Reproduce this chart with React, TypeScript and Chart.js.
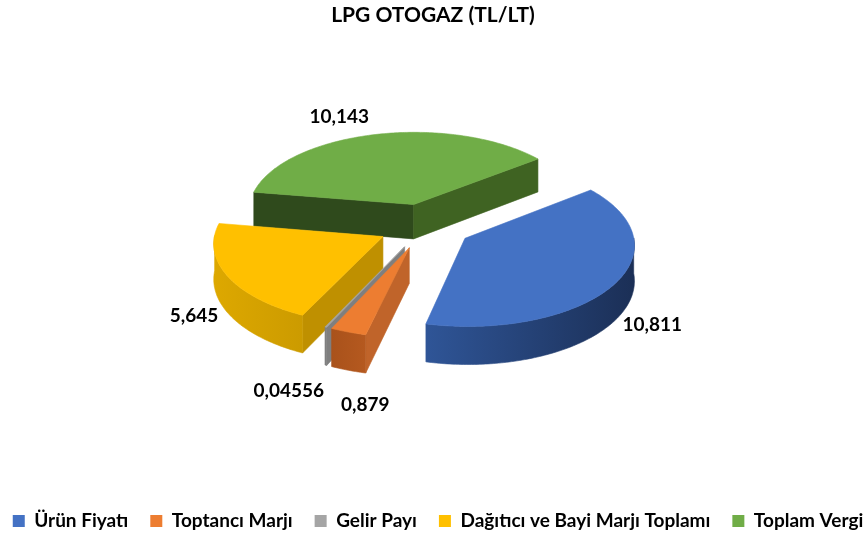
import { useEffect, useRef } from "react";
import { Chart, registerables } from "chart.js";

Chart.register(...registerables);

const categories = ["Ürün Fiyatı", "Toptancı Marjı", "Gelir Payı", "Dağıtıcı ve Bayi Marjı Toplamı", "Toplam Vergi"];
const values = [10.811, 0.879, 0.04556, 5.645, 10.143];
const valueLabels = ["10,811", "0,879", "0,04556", "5,645", "10,143"];
const colors = ["#4472C4", "#ED7D31", "#A5A5A5", "#FFC000", "#70AD47"];

// Styling of the 3D look
const wallColors = [
  ["#2F5597", "#1B2F56"],
  ["#A9521B", "#B5591F"],
  ["#7F7F7F", "#7F7F7F"],
  ["#DDA800", "#CC9B00"],
  ["#2F4A1C", "#3F6322"],
];
const cutColors = ["#1F3864", "#C0642A", "#7F7F7F", "#BF9000", "#2F4A1C"];
const cutColorsEnd = ["#1F3864", "#C0642A", "#7F7F7F", "#BF9000", "#3F6322"];
const labelNudges = [
  [38, 41],
  [17, 73],
  [-37, 64],
  [-33, 40],
  [-37, -18],
];
const drawOrder = [4, 0, 3, 2, 1];
const EXPLODE = 47;
const DEPTH = 35;
const TILT = 0.48;
const PERSPECTIVE = 0.07;
const CENTER_X = 425;
const CENTER_Y = 226;
const LEGEND_GAP = 22;
const FONT = "Lato, Carlito, 'Open Sans', sans-serif";

const layoutTweak = {
  id: "layoutTweak",
  afterLayout(chart: any) {
    const a = chart.chartArea;
    a.left = CENTER_X - 200;
    a.right = CENTER_X + 200;
    a.top = CENTER_Y - 200;
    a.bottom = CENTER_Y + 200;
    a.width = 400;
    a.height = 400;
  },
  beforeDraw(chart: any) {
    const lg = chart.legend;
    if (!lg || !lg.options) return;
    const base = lg.options;
    const extra = LEGEND_GAP - base.labels.padding;
    if (extra > 0) {
      lg.lineWidths[0] += extra * categories.length;
      lg.left -= 60;
      lg.right += 70;
      lg.top -= 0.5;
      lg.options = Object.assign(Object.create(base), {
        labels: Object.assign(Object.create(base.labels), { padding: LEGEND_GAP }),
      });
    }
  },
};

const pie3d = {
  id: "pie3d",
  beforeDatasetDraw(chart: any) {
    const ctx: CanvasRenderingContext2D = chart.ctx;
    const meta = chart.getDatasetMeta(0);
    ctx.save();
    for (const i of drawOrder) {
      const el = meta.data[i];
      const { x: cx, y: cy, startAngle, endAngle, outerRadius: R } = el.getProps(["x", "y", "startAngle", "endAngle", "outerRadius"], true);
      const mid = (startAngle + endAngle) / 2;
      const ax = Math.cos(mid) * EXPLODE;
      const ay = Math.sin(mid) * EXPLODE;
      const project = (px: number, py: number, z: number): [number, number] => {
        const s = 1 / (1 - (PERSPECTIVE * py) / R);
        return [cx + px * s, cy + py * TILT * s + z * s];
      };
      const rim = (a: number, z: number) => project(ax + R * Math.cos(a), ay + R * Math.sin(a), z);
      const poly = (pts: [number, number][], fill: string | CanvasGradient) => {
        ctx.beginPath();
        pts.forEach((p, k) => (k ? ctx.lineTo(p[0], p[1]) : ctx.moveTo(p[0], p[1])));
        ctx.closePath();
        ctx.fillStyle = fill;
        ctx.strokeStyle = fill;
        ctx.lineWidth = 0.6;
        ctx.fill();
        ctx.stroke();
      };
      const steps = Math.max(2, Math.ceil((endAngle - startAngle) / 0.015));
      const ang = (k: number) => startAngle + ((endAngle - startAngle) * k) / steps;

      // cut faces
      if (Math.sin(startAngle - Math.PI / 2) > 0) {
        poly([project(ax, ay, 0), rim(startAngle, 0), rim(startAngle, DEPTH), project(ax, ay, DEPTH)], cutColors[i]);
      }
      if (Math.sin(endAngle + Math.PI / 2) > 0) {
        poly([project(ax, ay, 0), rim(endAngle, 0), rim(endAngle, DEPTH), project(ax, ay, DEPTH)], cutColorsEnd[i]);
      }
      // outer wall, one piece per run of steps that face the viewer
      const visible: number[] = [];
      for (let k = 0; k <= steps; k++) {
        if (Math.sin(ang(k)) > -0.02) visible.push(ang(k));
      }
      if (visible.length > 1) {
        const upper = visible.map((a) => rim(a, 0));
        const lower = visible.map((a) => rim(a, DEPTH)).reverse();
        const xs = upper.map((p) => p[0]);
        const g = ctx.createLinearGradient(Math.min(...xs), 0, Math.max(...xs) + 0.01, 0);
        g.addColorStop(0, wallColors[i][0]);
        g.addColorStop(1, wallColors[i][1]);
        poly([...upper, ...lower], g);
      }
      // top face
      const top: [number, number][] = [project(ax, ay, 0)];
      for (let k = 0; k <= steps; k++) top.push(rim(ang(k), 0));
      poly(top, colors[i]);

      // value label
      const outer = project((R + EXPLODE) * Math.cos(mid), (R + EXPLODE) * Math.sin(mid), 0);
      ctx.font = `bold 19px ${FONT}`;
      ctx.fillStyle = "#000000";
      ctx.textAlign = "center";
      ctx.textBaseline = "middle";
      ctx.fillText(valueLabels[i], outer[0] + labelNudges[i][0], outer[1] + labelNudges[i][1]);
    }
    ctx.restore();
    return false;
  },
};

export default function App() {
  const ref = useRef<HTMLCanvasElement>(null);
  useEffect(() => {
    const chart = new Chart(ref.current as HTMLCanvasElement, {
      type: "pie",
      data: {
        labels: categories,
        datasets: [{ data: values, backgroundColor: colors, borderWidth: 0 }],
      },
      options: {
        responsive: false,
        animation: false,
        events: [],
        rotation: 52,
        radius: 167,
        layout: { padding: 0 },
        plugins: {
          tooltip: { enabled: false },
          title: {
            display: true,
            text: "LPG OTOGAZ (TL/LT)",
            color: "#000000",
            font: { family: FONT, size: 21, weight: "bold" },
            padding: { top: 3, bottom: 10 },
          },
          legend: {
            position: "bottom",
            labels: {
              color: "#000000",
              boxWidth: 12,
              boxHeight: 12,
              padding: 16,
              font: { family: FONT, size: 19, weight: "bold" },
            },
          },
        },
      } as any,
      plugins: [layoutTweak as any, pie3d as any],
    });
    return () => chart.destroy();
  }, []);
  return (
    <div style={{ position: "fixed", left: 0, top: 0, width: 866, height: 535, background: "#fff" }}>
      <canvas ref={ref} width={866} height={535} style={{ display: "block" }} />
    </div>
  );
}
